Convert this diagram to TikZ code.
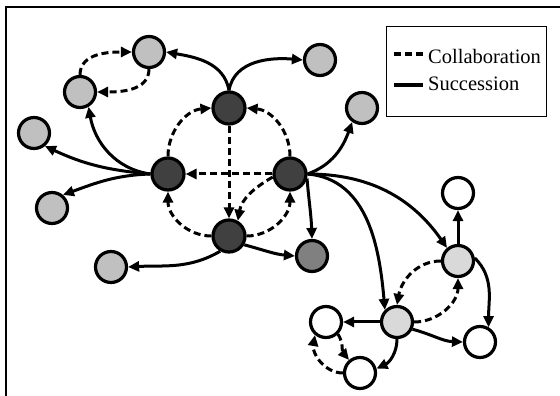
\documentclass[tikz,border=0pt]{standalone}
\usepackage{fontspec}
\setmainfont{Liberation Serif}
\usetikzlibrary{arrows.meta}
\definecolor{cdark}{HTML}{404040}
\definecolor{clight}{HTML}{C0C0C0}
\definecolor{cmid}{HTML}{808080}
\definecolor{cpale}{HTML}{D9D9D9}
\begin{document}
\begin{tikzpicture}[x=1pt,y=1pt,
  nd/.style={circle,draw=black,line width=3.2pt,minimum size=31pt,inner sep=0pt},
  dk/.style={nd,fill=cdark,minimum size=32pt},
  lg/.style={nd,fill=clight},
  md/.style={nd,fill=cmid},
  pl/.style={nd,fill=cpale},
  wh/.style={nd,fill=white},
  succ/.style={line width=3pt,-{Triangle[length=11pt,width=10pt]}},
  coll/.style={succ,dash pattern=on 7pt off 4pt},
  lgline/.style={line width=3.2pt}]
\useasboundingbox (0,0) rectangle (560,396);
\coordinate (f1) at (6,0);
\coordinate (f2) at (6,389);
\coordinate (f3) at (560,389);
\draw[line width=1.6pt] (f1) -- (f2) -- (f3);
% nodes
\node[dk] (Dt) at (229,288) {};
\node[dk] (Dl) at (168,222) {};
\node[dk] (Dr) at (290,222) {};
\node[dk] (Db) at (229,160) {};
\node[md] (M) at (312,140) {};
\node[lg] (A1) at (149,344) {};
\node[lg] (A2) at (80,304) {};
\node[lg] (A3) at (34,263) {};
\node[lg] (A4) at (52,188) {};
\node[lg] (A5) at (111,129) {};
\node[lg] (A6) at (320,336) {};
\node[lg] (A7) at (362,288) {};
\node[wh] (W1) at (458,203) {};
\node[pl] (L1) at (458,135) {};
\node[pl] (L2) at (397,74) {};
\node[wh] (W2) at (326,74) {};
\node[wh] (W3) at (360,23) {};
\node[wh] (W4) at (480,54) {};
% central dark cluster
\draw[succ] (Dt.north) to[out=100,in=-10] (A1.east);
\draw[succ] (Dt.north) to[out=80,in=175] (A6.west);
\draw[coll] (Dt) -- (Db);
\draw[coll] (Dl.north) to[out=90,in=185] (Dt.west);
\draw[coll] (Dr.north) to[out=90,in=-5] (Dt.east);
\draw[coll] (Dr) -- (Dl);
\draw[coll] (Dr.190) to[out=210,in=80] (Db.60);
\draw[coll] (Db.west) to[out=180,in=-90] (Dl.south);
\draw[coll] (Db.east) to[out=0,in=-90] (Dr.south);
% left fan
\draw[succ] (Dl.west) to[out=172,in=-80] (A2.-60);
\draw[succ] (Dl.west) to[out=175,in=-25] (A3.-50);
\draw[succ] (Dl.west) to[out=182,in=20] (A4.50);
\draw[coll] (A2.north) to[out=90,in=180] (A1.west);
\draw[coll] (A1.south) to[out=-90,in=0] (A2.east);
% bottom dark
\draw[succ] (Db.-120) to[out=-150,in=3] (A5.east);
\draw[succ] (Db.-30) to[out=-15,in=175] (M.west);
% right dark
\draw[succ] (Dr.east) to[out=20,in=-110] (A7.-125);
\draw[succ] (Dr.-15) to[out=-85,in=92] (M.north);
\draw[succ] (Dr.east) to[out=-5,in=95] (L2.135);
\draw[succ] (Dr.east) to[out=0,in=125] (L1.130);
% right cluster
\draw[succ] (L1) -- (W1);
\draw[succ] (L1.10) to[out=-45,in=90] (W4.60);
\draw[coll] (L1.west) to[out=180,in=80] (L2.north);
\draw[coll] (L2.east) to[out=0,in=-90] (L1.south);
\draw[succ] (L2) -- (W2);
\draw[succ] (L2.-25) to[out=-15,in=178] (W4.west);
\draw[succ] (L2.south) to[out=-90,in=25] (W3.15);
\draw[coll] (W2.-45) to[out=-60,in=130] (W3.130);
\draw[coll] (W3.west) to[out=180,in=-100] (W2.-130);
% legend
\node[draw=black,line width=1.6pt,minimum width=160pt,minimum height=90pt,inner sep=0pt] (leg) at (466.5,324.5) {};
\coordinate (c1) at (394,342);
\coordinate (c2) at (423,342);
\coordinate (s1) at (394,311);
\coordinate (s2) at (423,311);
\draw[lgline,dash pattern=on 7pt off 4pt] (c1) -- (c2);
\draw[lgline] (s1) -- (s2);
\node[anchor=west,inner sep=0pt,font=\fontsize{20.5pt}{22pt}\selectfont] (t1) at (428,340) {Collaboration};
\node[anchor=west,inner sep=0pt,font=\fontsize{20.5pt}{22pt}\selectfont] (t2) at (428,312) {Succession};
\end{tikzpicture}
\end{document}
